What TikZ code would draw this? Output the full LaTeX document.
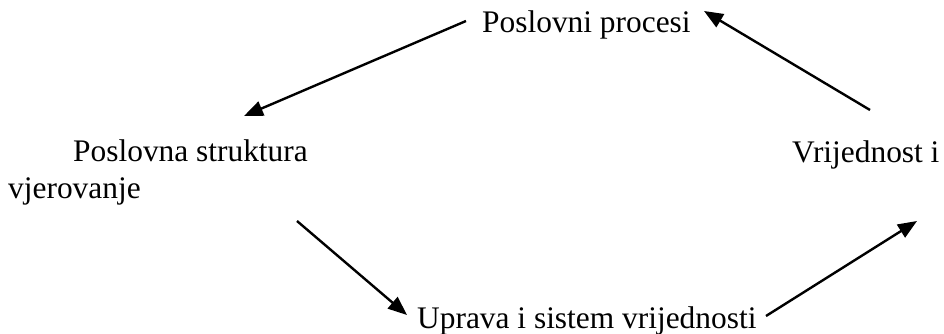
\documentclass[tikz,border=0pt]{standalone}
\usepackage{fontspec}
\setmainfont{Liberation Serif}
\usetikzlibrary{arrows.meta}
\begin{document}
\begin{tikzpicture}[x=1pt,y=-1pt,
  lbl/.style={inner sep=0pt,anchor=base west,font=\fontsize{31.4}{38}\selectfont},
  arr/.style={line width=2.4pt,-{Triangle[length=19pt,width=15pt]}}]
\useasboundingbox (0,0) rectangle (944,334);
\node[lbl] (pp) at (482,33) {Poslovni procesi};
\node[lbl] (ps) at (73,161) {Poslovna struktura};
\node[lbl] (vj) at (8,198) {vjerovanje};
\node[lbl] (vi) at (792,162) {Vrijednost i};
\node[lbl] (us) at (417,328) {Uprava i sistem vrijednosti};
\coordinate (a1s) at (466,21);
\coordinate (a1e) at (244,116);
\coordinate (a2s) at (870,110);
\coordinate (a2e) at (704,11);
\coordinate (a3s) at (297,221);
\coordinate (a3e) at (407,315);
\coordinate (a4s) at (766,316);
\coordinate (a4e) at (917,221);
\draw[arr] (a1s) -- (a1e);
\draw[arr] (a2s) -- (a2e);
\draw[arr] (a3s) -- (a3e);
\draw[arr] (a4s) -- (a4e);
\end{tikzpicture}
\end{document}
